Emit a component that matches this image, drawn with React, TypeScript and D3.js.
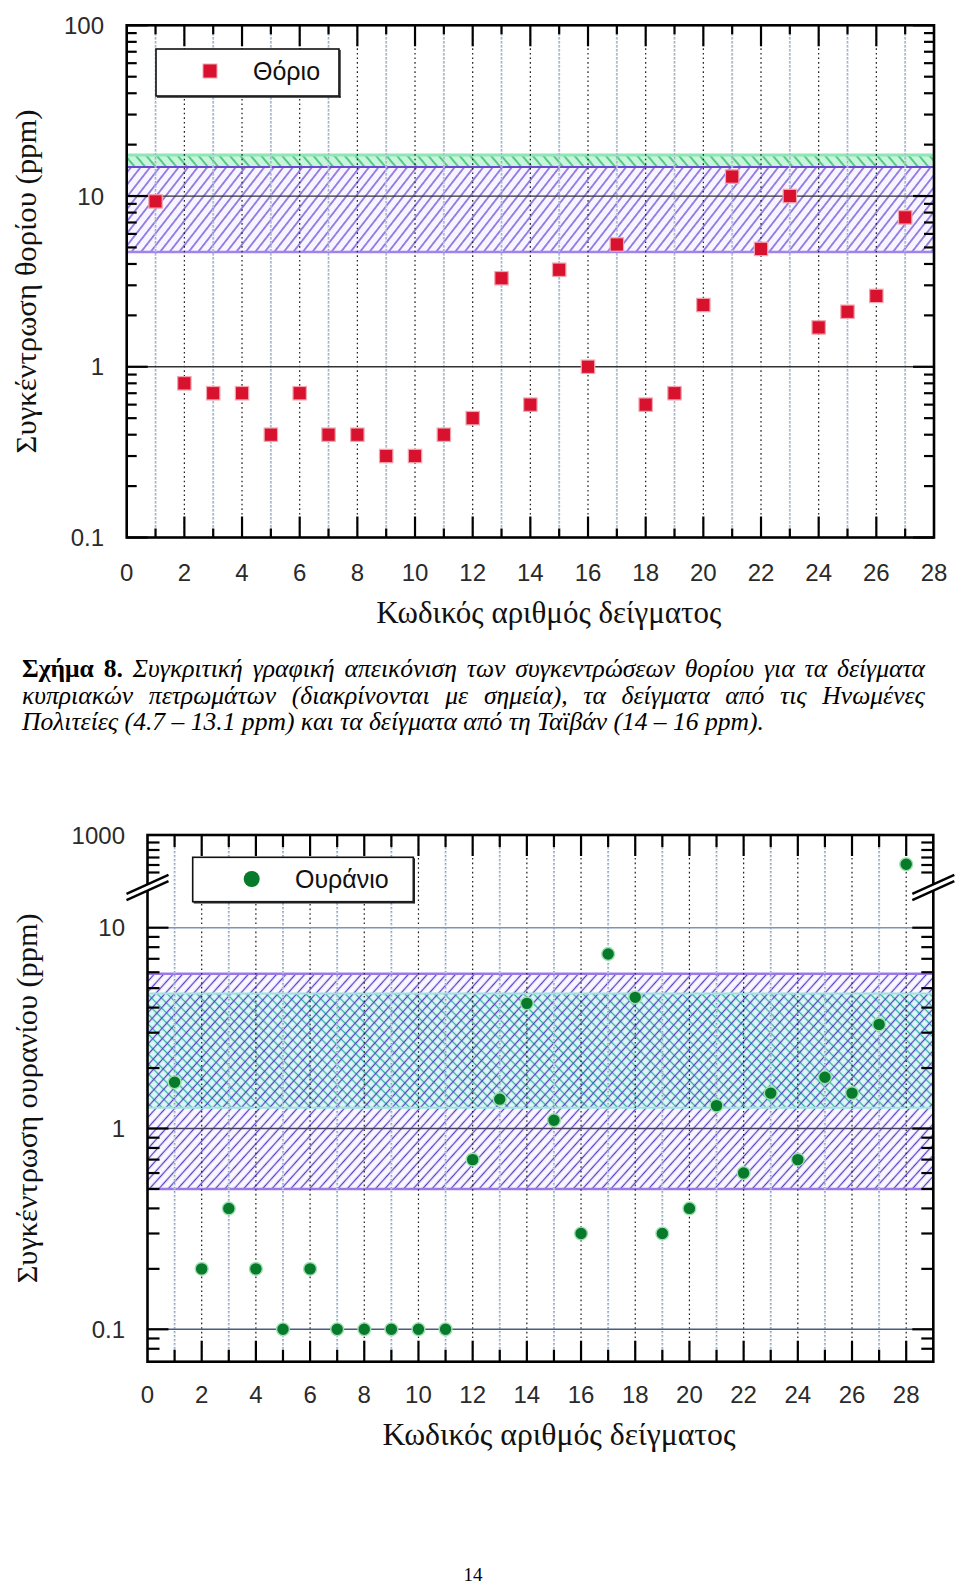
import React, { useMemo, useEffect } from 'react';
import * as d3 from 'd3';

// ---------- DATA ----------
const thoriumSamples = [1, 2, 3, 4, 5, 6, 7, 8, 9, 10, 11, 12, 13, 14, 15, 16, 17, 18, 19, 20, 21, 22, 23, 24, 25, 26, 27];
const thoriumValues = [9.3, 0.8, 0.7, 0.7, 0.4, 0.7, 0.4, 0.4, 0.3, 0.3, 0.4, 0.5, 3.3, 0.6, 3.7, 1.0, 5.2, 0.6, 0.7, 2.3, 13, 4.9, 10, 1.7, 2.1, 2.6, 7.5];

const uraniumSamples = [1, 2, 3, 4, 5, 6, 7, 8, 9, 10, 11, 12, 13, 14, 15, 16, 17, 18, 19, 20, 21, 22, 23, 24, 25, 26, 27, 28];
const uraniumValues = [1.7, 0.2, 0.4, 0.2, 0.1, 0.2, 0.1, 0.1, 0.1, 0.1, 0.1, 0.7, 1.4, 4.2, 1.1, 0.3, 7.4, 4.5, 0.3, 0.4, 1.3, 0.6, 1.5, 0.7, 1.8, 1.5, 3.3, 610];

const xTickLabels = [0, 2, 4, 6, 8, 10, 12, 14, 16, 18, 20, 22, 24, 26, 28];
const xAllTicks = d3.range(1, 28);
const xAllTicks2 = d3.range(1, 29);

const thoriumYTicks = [0.1, 1, 10, 100];
const thoriumMinor = [0.2, 0.3, 0.4, 0.5, 0.6, 0.7, 0.8, 0.9, 2, 3, 4, 5, 6, 7, 8, 9, 20, 30, 40, 50, 60, 70, 80, 90];
const thoriumGridY = [1, 10];

const uraniumYTicksLow = [0.1, 1, 10];
const uraniumYTicksHigh = [1000];
const uraniumMinorLow = [0.08, 0.09, 0.2, 0.3, 0.4, 0.5, 0.6, 0.7, 0.8, 0.9, 2, 3, 4, 5, 6, 7, 8, 9];
const uraniumMinorHigh = [500, 600, 700, 800, 900];
const uraniumGridY = [0.1, 1, 10];

const thoriumUSBand = [4.7, 14.8];
const thoriumTaiwanBand = [14.8, 17.4];
const uraniumUSBand = [0.5, 5.9];
const uraniumTaiwanBand = [1.27, 4.7];
const uraniumHighDomain = [300, 1000];

const captionBold = 'Σχήμα 8.';
const captionLines = [
  'Συγκριτική γραφική απεικόνιση των συγκεντρώσεων θορίου για τα δείγματα',
  'κυπριακών πετρωμάτων (διακρίνονται με σημεία), τα δείγματα από τις Ηνωμένες',
  'Πολιτείες (4.7 – 13.1 ppm) και τα δείγματα από τη Ταϊβάν (14 – 16 ppm).',
];

// ---------- STYLE ----------
const SANS = "'Liberation Sans', Arial, Helvetica, sans-serif";
const SERIF = "'Liberation Serif', 'Times New Roman', serif";

const C1 = { left: 126.7, right: 934, top: 25.3, bottom: 537.5 };
const C2 = { left: 147.5, right: 933.3, top: 835, bottom: 1361.7, brk: 887.5 };

function useMeasure() {
  return useMemo(() => {
    let ctx: CanvasRenderingContext2D | null = null;
    try {
      ctx = document.createElement('canvas').getContext('2d');
    } catch (e) {
      ctx = null;
    }
    return (text: string, font: string) => {
      if (!ctx) return text.length * 9;
      ctx.font = font;
      return ctx.measureText(text).width;
    };
  }, []);
}

const GridV = ({ xs, x, top, bottom }: any) => (
  <g>
    {xs.map((v: number) =>
      v % 2 === 0 ? (
        <line key={v} x1={x(v)} x2={x(v)} y1={top} y2={bottom} stroke="#1a1a1a" strokeWidth={1.2} strokeDasharray="1.6,3" />
      ) : (
        <g key={v}>
          <line x1={x(v)} x2={x(v)} y1={top} y2={bottom} stroke="#b9c9dc" strokeWidth={2} strokeDasharray="2.5,1.5" />
          <line x1={x(v)} x2={x(v)} y1={top} y2={bottom} stroke="#8a96a8" strokeWidth={1} strokeDasharray="1,3" />
        </g>
      )
    )}
  </g>
);

const XTicks = ({ xs, x, top, bottom, major, minor }: any) => (
  <g stroke="#000" strokeWidth={2.2}>
    {xs.map((v: number) => {
      const len = v % 2 === 0 ? major : minor;
      return (
        <g key={v}>
          <line x1={x(v)} x2={x(v)} y1={bottom} y2={bottom - len} />
          <line x1={x(v)} x2={x(v)} y1={top} y2={top + len} />
        </g>
      );
    })}
  </g>
);

const YTicks = ({ vals, y, left, right, len }: any) => (
  <g stroke="#000" strokeWidth={2.2}>
    {vals.map((v: number) => (
      <g key={v}>
        <line x1={left} x2={left + len} y1={y(v)} y2={y(v)} />
        <line x1={right} x2={right - len} y1={y(v)} y2={y(v)} />
      </g>
    ))}
  </g>
);

const BreakMark = ({ cx, cy }: any) => {
  const w = 21;
  const h = 9.5;
  const d = 3.2;
  return (
    <g>
      <polygon
        points={`${cx - w},${cy + h - d} ${cx + w},${cy - h - d} ${cx + w},${cy - h + d} ${cx - w},${cy + h + d}`}
        fill="#fff"
      />
      <line x1={cx - w} y1={cy + h - d} x2={cx + w} y2={cy - h - d} stroke="#000" strokeWidth={2.4} />
      <line x1={cx - w} y1={cy + h + d} x2={cx + w} y2={cy - h + d} stroke="#000" strokeWidth={2.4} />
    </g>
  );
};

const Legend = ({ x, y, w, h, children }: any) => (
  <g>
    <rect x={x} y={y} width={w} height={h} fill="#fff" stroke="#111" strokeWidth={1.6} />
    <line x1={x + w + 0.8} x2={x + w + 0.8} y1={y + 1} y2={y + h + 1.6} stroke="#222" strokeWidth={1.8} />
    <line x1={x + 1} x2={x + w + 1.6} y1={y + h + 0.8} y2={y + h + 0.8} stroke="#222" strokeWidth={1.8} />
    {children}
  </g>
);

export default function App() {
  useEffect(() => {
    document.body.style.margin = '0';
  }, []);
  const measure = useMeasure();

  // ----- scales chart 1 -----
  const x1 = d3.scaleLinear().domain([0, 28]).range([C1.left, C1.right]);
  const y1 = d3.scaleLog().domain([0.1, 100]).range([C1.bottom, C1.top]);

  // ----- scales chart 2 (broken axis) -----
  const x2 = d3.scaleLinear().domain([0, 29]).range([C2.left, C2.right]);
  const y2Low = d3.scaleLog().domain([0.1, 10]).range([1329.3, 927.7]);
  const y2High = d3.scaleLinear().domain(uraniumHighDomain).range([C2.brk, C2.top]);
  const y2 = (v: number) => (v > 100 ? y2High(v) : y2Low(v));

  // ----- caption layout -----
  const cap = useMemo(() => {
    const fs = 24.5;
    const fItal = `italic ${fs}px 'Liberation Serif'`;
    const fBold = `bold ${fs}px 'Liberation Serif'`;
    const left = 22;
    const right = 925;
    const line3Target = 742;
    const l3nat = measure(captionLines[2], fItal);
    const s = line3Target / l3nat;
    const spaceW = measure(' ', fItal) * s;
    const lines: any[] = [];
    const baselines = [677, 703.5, 730];
    captionLines.forEach((ln, i) => {
      const words = ln.split(' ').map((t) => ({ t, bold: false, w: measure(t, fItal) * s }));
      if (i === 0) {
        const bw = captionBold.split(' ').map((t) => ({ t, bold: true, w: measure(t, fBold) * s }));
        words.unshift(...bw);
      }
      const total = d3.sum(words, (d) => d.w);
      const gap = i < 2 ? (right - left - total) / (words.length - 1) : spaceW;
      let cur = left;
      words.forEach((wd: any) => {
        lines.push({ ...wd, x: cur, y: baselines[i], key: `${i}-${cur}` });
        cur += wd.w + gap;
      });
    });
    return { lines, fs };
  }, [measure]);

  const band = (y: any, lo: number, hi: number, left: number, right: number) => ({
    x: left,
    y: y(hi),
    width: right - left,
    height: y(lo) - y(hi),
  });

  const b1us = band(y1, thoriumUSBand[0], thoriumUSBand[1], C1.left, C1.right);
  const b1tw = band(y1, thoriumTaiwanBand[0], thoriumTaiwanBand[1], C1.left, C1.right);
  const b2us = band(y2Low, uraniumUSBand[0], uraniumUSBand[1], C2.left, C2.right);
  const b2tw = band(y2Low, uraniumTaiwanBand[0], uraniumTaiwanBand[1], C2.left, C2.right);

  const tickFont = 24;
  const tickFill = '#2a2a2a';

  return (
    <svg
      width={960}
      height={1587}
      viewBox="0 0 960 1587"
      style={{ position: 'absolute', left: 0, top: 0, display: 'block', background: '#fff' }}
    >
      <defs>
        <pattern id="hp1" patternUnits="userSpaceOnUse" width={7.5} height={7.5} patternTransform="rotate(38)">
          <line x1={3.75} y1={0} x2={3.75} y2={7.5} stroke="#6a46d4" strokeWidth={1.3} />
        </pattern>
        <pattern id="hg1" patternUnits="userSpaceOnUse" width={8} height={8} patternTransform="rotate(-40)">
          <line x1={4} y1={0} x2={4} y2={8} stroke="#22b860" strokeWidth={1.4} />
        </pattern>
        <pattern id="hp2" patternUnits="userSpaceOnUse" width={7} height={7} patternTransform="rotate(42)">
          <line x1={3.5} y1={0} x2={3.5} y2={7} stroke="#5a3ec8" strokeWidth={1.3} />
        </pattern>
        <pattern id="ht2" patternUnits="userSpaceOnUse" width={7} height={7} patternTransform="rotate(-45)">
          <line x1={3.5} y1={0} x2={3.5} y2={7} stroke="#2fb0a2" strokeWidth={1.3} />
        </pattern>
      </defs>

      {/* ================= CHART 1 ================= */}
      <g>
        <rect {...b1tw} fill="#c9f4dc" />
        <rect {...b1tw} fill="url(#hg1)" />
        <line x1={C1.left} x2={C1.right} y1={b1tw.y} y2={b1tw.y} stroke="#8fe6b6" strokeWidth={3} />
        <rect {...b1us} fill="#f7f5ff" />
        <rect {...b1us} fill="url(#hp1)" />
        <line x1={C1.left} x2={C1.right} y1={b1us.y} y2={b1us.y} stroke="#6a4ad0" strokeWidth={2} />
        <line x1={C1.left} x2={C1.right} y1={b1us.y + b1us.height} y2={b1us.y + b1us.height} stroke="#a283ea" strokeWidth={2.6} />

        <GridV xs={xAllTicks} x={x1} top={C1.top} bottom={C1.bottom} />
        {thoriumGridY.map((v) => (
          <line key={v} x1={C1.left} x2={C1.right} y1={y1(v)} y2={y1(v)} stroke="#333" strokeWidth={1.3} />
        ))}

        <XTicks xs={xAllTicks} x={x1} top={C1.top} bottom={C1.bottom} major={21} minor={9} />
        <YTicks vals={thoriumYTicks} y={y1} left={C1.left} right={C1.right} len={21} />
        <YTicks vals={thoriumMinor} y={y1} left={C1.left} right={C1.right} len={10} />
        <rect x={C1.left} y={C1.top} width={C1.right - C1.left} height={C1.bottom - C1.top} fill="none" stroke="#000" strokeWidth={2.6} />

        {thoriumValues.map((v, i) => (
          <rect
            key={i}
            x={x1(thoriumSamples[i]) - 6.7}
            y={y1(v) - 6.7}
            width={13.4}
            height={13.4}
            fill="#d8122e"
            stroke="#f4a6b0"
            strokeWidth={1.2}
          />
        ))}

        {thoriumYTicks.map((v) => (
          <text key={v} x={104} y={y1(v)} dy="0.36em" textAnchor="end" fontFamily={SANS} fontSize={tickFont} fill={tickFill}>
            {String(v)}
          </text>
        ))}
        {xTickLabels.map((v) => (
          <text key={v} x={x1(v)} y={581} textAnchor="middle" fontFamily={SANS} fontSize={tickFont} fill={tickFill}>
            {v}
          </text>
        ))}
        <text x={548.8} y={623} textAnchor="middle" fontFamily={SERIF} fontSize={31} textLength={345} lengthAdjust="spacingAndGlyphs" fill="#111">
          Κωδικός αριθμός δείγματος
        </text>
        <text
          transform={`translate(36, ${(C1.top + C1.bottom) / 2}) rotate(-90)`}
          textAnchor="middle"
          fontFamily={SERIF}
          fontSize={29}
          textLength={344}
          lengthAdjust="spacingAndGlyphs"
          fill="#111"
        >
          Συγκέντρωση θορίου (ppm)
        </text>

        <Legend x={156} y={49} w={183} h={47}>
          <rect x={203} y={64} width={14} height={14} fill="#d8122e" stroke="#f4a6b0" strokeWidth={1} />
          <text x={253} y={80} fontFamily={SANS} fontSize={25} fill="#111">
            Θόριο
          </text>
        </Legend>
      </g>

      {/* ================= CAPTION ================= */}
      <g fill="#000">
        {cap.lines.map((w: any) => (
          <text
            key={w.key}
            x={w.x}
            y={w.y}
            fontFamily={SERIF}
            fontSize={cap.fs}
            fontStyle={w.bold ? 'normal' : 'italic'}
            fontWeight={w.bold ? 'bold' : 'normal'}
            textLength={w.w}
            lengthAdjust="spacingAndGlyphs"
          >
            {w.t}
          </text>
        ))}
      </g>

      {/* ================= CHART 2 ================= */}
      <g>
        <rect {...b2us} fill="#f9f7ff" />
        <rect {...b2tw} fill="#dcf8f6" />
        <rect {...b2tw} fill="url(#ht2)" />
        <rect {...b2us} fill="url(#hp2)" />
        <line x1={C2.left} x2={C2.right} y1={b2tw.y} y2={b2tw.y} stroke="#9fe3dc" strokeWidth={2} />
        <line x1={C2.left} x2={C2.right} y1={b2tw.y + b2tw.height} y2={b2tw.y + b2tw.height} stroke="#9fe3dc" strokeWidth={2} />
        <line x1={C2.left} x2={C2.right} y1={b2us.y} y2={b2us.y} stroke="#9b78e8" strokeWidth={2.6} />
        <line x1={C2.left} x2={C2.right} y1={b2us.y + b2us.height} y2={b2us.y + b2us.height} stroke="#9b78e8" strokeWidth={2.6} />

        <GridV xs={xAllTicks2} x={x2} top={C2.top} bottom={C2.bottom} />
        <line x1={C2.left} x2={C2.right} y1={y2Low(uraniumGridY[2])} y2={y2Low(uraniumGridY[2])} stroke="#8090b8" strokeWidth={1.6} />
        <line x1={C2.left} x2={C2.right} y1={y2Low(uraniumGridY[1])} y2={y2Low(uraniumGridY[1])} stroke="#4a4262" strokeWidth={1.4} />
        <line x1={C2.left} x2={C2.right} y1={y2Low(uraniumGridY[0])} y2={y2Low(uraniumGridY[0])} stroke="#4a5a84" strokeWidth={1.6} />

        <XTicks xs={xAllTicks2} x={x2} top={C2.top} bottom={C2.bottom} major={21} minor={12} />
        <YTicks vals={uraniumYTicksLow} y={y2Low} left={C2.left} right={C2.right} len={21} />
        <YTicks vals={uraniumMinorLow} y={y2Low} left={C2.left} right={C2.right} len={12} />
        <YTicks vals={uraniumMinorHigh} y={y2High} left={C2.left} right={C2.right} len={12} />
        <rect x={C2.left} y={C2.top} width={C2.right - C2.left} height={C2.bottom - C2.top} fill="none" stroke="#000" strokeWidth={2.6} />
        <BreakMark cx={C2.left} cy={C2.brk} />
        <BreakMark cx={C2.right} cy={C2.brk} />

        {uraniumValues.map((v, i) => (
          <circle key={i} cx={x2(uraniumSamples[i])} cy={y2(v)} r={6.4} fill="#087a2c" stroke="#9fe0b0" strokeWidth={1.4} />
        ))}

        {uraniumYTicksHigh.map((v) => (
          <text key={v} x={125} y={y2High(v)} dy="0.36em" textAnchor="end" fontFamily={SANS} fontSize={tickFont} fill={tickFill}>
            {String(v)}
          </text>
        ))}
        {uraniumYTicksLow.map((v) => (
          <text key={v} x={125} y={y2Low(v)} dy="0.36em" textAnchor="end" fontFamily={SANS} fontSize={tickFont} fill={tickFill}>
            {String(v)}
          </text>
        ))}
        {xTickLabels.map((v) => (
          <text key={v} x={x2(v)} y={1403} textAnchor="middle" fontFamily={SANS} fontSize={tickFont} fill={tickFill}>
            {v}
          </text>
        ))}
        <text x={559} y={1445} textAnchor="middle" fontFamily={SERIF} fontSize={31} textLength={353} lengthAdjust="spacingAndGlyphs" fill="#111">
          Κωδικός αριθμός δείγματος
        </text>
        <text
          transform={`translate(37, ${(C2.top + C2.bottom) / 2}) rotate(-90)`}
          textAnchor="middle"
          fontFamily={SERIF}
          fontSize={29}
          textLength={370}
          lengthAdjust="spacingAndGlyphs"
          fill="#111"
        >
          Συγκέντρωση ουρανίου (ppm)
        </text>

        <Legend x={192.7} y={857.3} w={220.6} h={44.4}>
          <circle cx={251.7} cy={879} r={8} fill="#087a2c" />
          <text x={295} y={888} fontFamily={SANS} fontSize={25} fill="#111">
            Ουράνιο
          </text>
        </Legend>
      </g>

      <text x={473} y={1581} textAnchor="middle" fontFamily={SERIF} fontSize={19} fill="#000">
        14
      </text>
    </svg>
  );
}
